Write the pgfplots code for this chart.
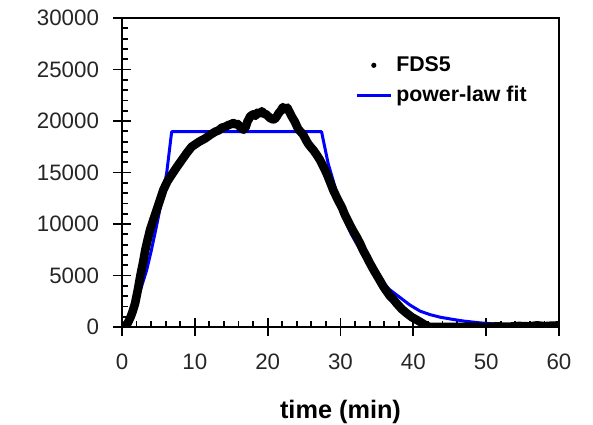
\documentclass[border=0pt]{standalone}
\usepackage{fontspec}
\setmainfont{Liberation Sans}
\usepackage{pgfplots}
\pgfplotsset{compat=1.18}
\definecolor{fitblue}{RGB}{0,0,255}

% black data (time in min, value)
\pgfplotstableread{
t y
0.0 0
0.4 60
0.8 400
1.2 1000
1.5 1600
1.8 2300
2.2 3700
2.5 4900
2.9 6300
3.2 7480
3.5 8400
3.85 9420
4.3 10400
4.76 11360
5.2 12300
5.67 13300
6.2 14100
6.8 14760
7.5 15500
8.2 16200
8.9 16900
9.57 17500
10.1 17750
10.5 17950
11.0 18150
11.4 18300
12.1 18650
12.8 18960
13.3 19100
13.7 19350
14.2 19450
14.6 19600
15.0 19700
15.3 19800
15.6 19650
15.9 19700
16.3 19350
16.7 19150
17.0 19450
17.2 19900
17.6 20450
18.0 20650
18.3 20500
18.6 20800
19.0 20750
19.2 20950
19.5 20700
19.8 20650
20.3 20300
20.7 20150
21.0 20200
21.3 20500
21.5 20750
21.8 21000
22.1 21350
22.4 21150
22.7 21300
22.9 21000
23.3 20450
23.75 19900
24.2 19200
24.6 18900
24.9 18650
25.3 18100
25.6 17750
26.0 17400
26.3 17150
26.7 16750
27.2 16200
27.65 15560
28.1 14900
28.5 14200
29.0 13300
29.6 12400
30.2 11600
30.6 10900
31.3 9900
31.8 9250
32.2 8770
32.7 8100
33.1 7450
33.6 6800
34.05 6180
34.5 5600
35.0 5000
35.5 4400
35.9 3910
36.4 3400
36.8 3000
37.3 2650
37.7 2300
38.4 1750
39.1 1330
39.8 950
40.5 680
41.2 380
41.8 120
42.3 0
44.0 20
46.0 0
48.0 40
50.0 0
51.5 60
53.0 20
54.5 100
56.0 60
57.0 160
58.0 80
59.0 130
60.0 150
}\fdsdata

% power-law fit
\pgfplotstableread{
t y
0.0 0
0.5 100
1.0 380
1.33 680
1.8 1500
2.24 2940
2.8 4200
3.39 5530
4.0 7350
4.53 9100
5.0 10700
5.45 12330
6.13 14920
6.82 18960
27.4 18960
28.3 15890
29.9 12010
30.4 10700
31.5 9000
32.7 7480
34.1 5900
35.4 4560
36.8 3600
38.2 2850
39.5 2150
40.9 1550
42.3 1200
43.7 950
45.5 730
47.0 570
49.2 400
52.0 240
55.0 130
60.0 50
}\fitdata

\begin{document}
\begin{tikzpicture}[x=1bp,y=1bp]
\path[use as bounding box] (-61,-49) rectangle (235.5,163.5);
\begin{axis}[
  at={(0,0)}, anchor=south west,
  scale only axis, width=218.5bp, height=154.5bp,
  xmin=0, xmax=60, ymin=0, ymax=30000,
  xtick={0,10,...,60}, ytick={0,5000,...,30000},
  minor x tick num=4, minor y tick num=4,
  xtick pos=bottom, ytick pos=left,
  tick align=inside,
  major tick length=9bp, minor tick length=3bp,
  major x tick style={yshift=-4.5bp},
  major y tick style={xshift=-4.5bp},
  every tick/.style={black, line width=0.9bp},
  axis line style={black, line width=1bp},
  scaled ticks=false,
  /pgf/number format/1000 sep={},
  /pgf/number format/assume math mode=true,
  tick label style={font=\fontsize{11.2}{13}\selectfont, text=black!85},
  xticklabel style={yshift=-10bp},
  yticklabel style={xshift=-8bp},
  xlabel={\textbf{time (min)}},
  every axis x label/.style={at={(axis description cs:0.5,0)}, anchor=center, yshift=-42.3bp, font=\fontsize{12.7}{15}\selectfont},
  legend style={at={(axis description cs:0.533,0.89)}, anchor=north west,
    draw=none, fill=none, inner sep=0pt, row sep=2bp,
    font=\fontsize{10.7}{13}\selectfont\bfseries},
  legend cell align=left,
  reverse legend,
]
\addplot[fitblue, line width=1.5bp, line join=round] table[x=t, y=y] {\fitdata};
\addlegendentry{power-law fit}
\addplot[black, line width=4.3bp, line join=round, line cap=round,
  legend image code/.code={\path[fill=black, draw=none, line width=0pt] (0.3cm,0cm) circle (1.3bp);}]
  table[x=t, y=y] {\fdsdata};
\addlegendentry{FDS5}
\end{axis}
\end{tikzpicture}
\end{document}
